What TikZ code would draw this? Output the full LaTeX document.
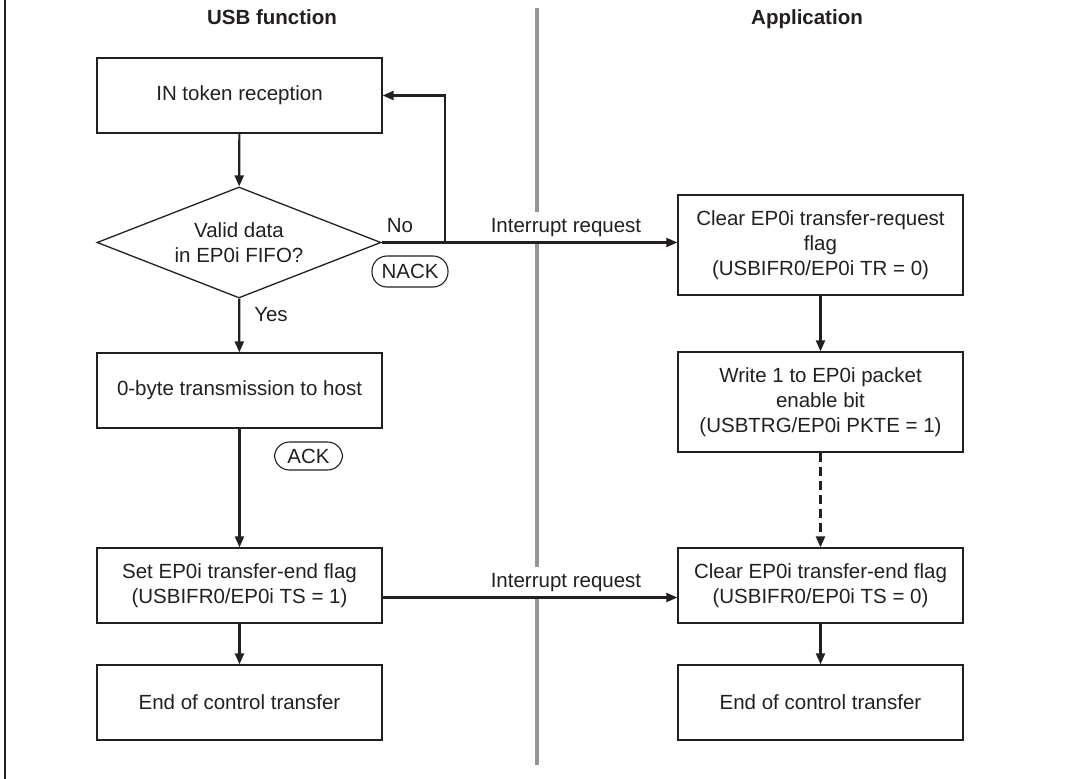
\documentclass[tikz,border=0pt]{standalone}
\usepackage{fontspec}
\setmainfont{Liberation Sans}
\usetikzlibrary{arrows.meta,shapes.geometric}
\definecolor{ink}{HTML}{231F20}
\definecolor{sep}{HTML}{939598}
\begin{document}
\begin{tikzpicture}[x=1pt,y=-1pt,
  txt/.style={font=\fontsize{20.5}{25}\selectfont, text=ink, align=center},
  box/.style={txt, draw=ink, line width=1.3pt, minimum width=285pt, minimum height=75pt, inner sep=0pt},
  tall/.style={box, minimum height=100pt},
  dec/.style={txt, draw=ink, line width=1.3pt, shape=diamond, shape aspect=2.56, minimum width=284pt, minimum height=111pt, inner sep=0pt},
  pill/.style={txt, draw=ink, line width=1.1pt, rounded corners=15pt, minimum width=76pt, minimum height=31pt, inner sep=0pt},
  conn/.style={draw=ink, line width=2.2pt, -{Triangle[length=11pt,width=9pt]}},
  lab/.style={txt, fill=white, inner xsep=2pt, inner ysep=6pt, anchor=south},
  title/.style={font=\bfseries\fontsize{20.5}{25}\selectfont, text=ink, anchor=base}
]
\useasboundingbox (0,0) rectangle (1077,779);
\draw[ink, line width=2pt] (5,0) -- (5,779);
\draw[sep, line width=4pt] (537,8) -- (537,765);

\node[title] (t1) at (272,24) {USB function};
\node[title] (t2) at (807,24) {Application};

\node[box] (in) at (239.5,95.5) {IN token reception};
\node[dec] (dia) at (239,242.5) {Valid data\\in EP0i FIFO?};
\node[box] (zero) at (239.5,390.5) {0-byte transmission to host};
\node[box] (set) at (239.5,585.5) {Set EP0i transfer-end flag\\(USBIFR0/EP0i TS = 1)};
\node[box] (end1) at (239.5,702.5) {End of control transfer};

\node[tall] (clr) at (820.5,245) {Clear EP0i transfer-request\\flag\\(USBIFR0/EP0i TR = 0)};
\node[tall] (wr) at (820.5,402) {Write 1 to EP0i packet\\enable bit\\(USBTRG/EP0i PKTE = 1)};
\node[box] (clrend) at (820.5,585.5) {Clear EP0i transfer-end flag\\(USBIFR0/EP0i TS = 0)};
\node[box] (end2) at (820.5,702.5) {End of control transfer};

\node[txt] (no) at (400,226) {No};
\node[pill] (nack) at (410,271.5) {NACK};
\node[txt] (yes) at (271,315) {Yes};
\node[pill, minimum width=68pt, minimum height=28pt] (ack) at (308.5,456) {ACK};

\node[lab] (ir1) at (566,243) {Interrupt request};
\node[lab] (ir2) at (566,597.5) {Interrupt request};

\coordinate (lp) at (445,243);

\path[conn] (in) -- (dia);
\path[conn] (dia) -- (zero);
\path[conn] (zero) -- (set);
\path[conn] (set) -- (end1);
\path[conn] (dia.east) -- (dia.east -| clr.west);
\path[conn] (lp) |- (in.east);
\path[conn] ([yshift=-12pt]set.east) -- ([yshift=-12pt]clrend.west);
\path[conn] (clr) -- (wr);
\path[conn, dashed, dash pattern=on 9pt off 5pt] (wr) -- (clrend);
\path[conn] (clrend) -- (end2);
\end{tikzpicture}
\end{document}
